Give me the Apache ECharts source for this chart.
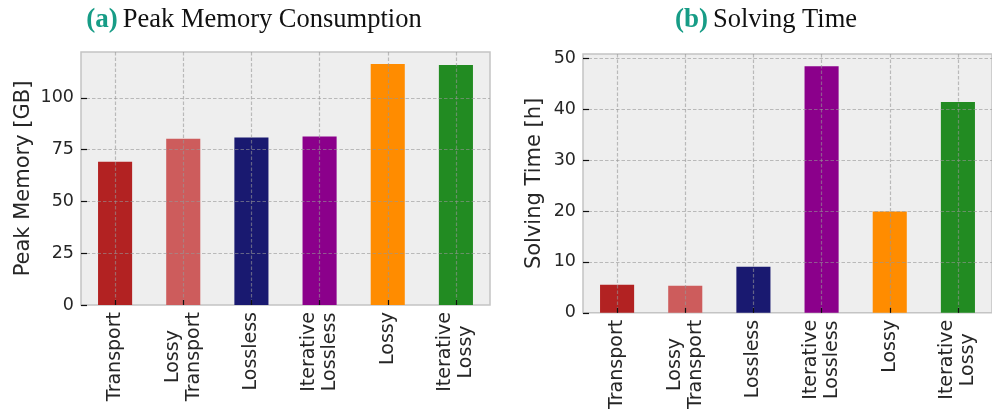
<!DOCTYPE html>
<html>
<head>
<meta charset="utf-8">
<script src="https://cdn.jsdelivr.net/npm/echarts@6/dist/echarts.min.js"></script>
<style>
    html, body { margin: 0; padding: 0; background: #ffffff; }
    #main { width: 992px; height: 412px; }
</style>
</head>
<body>
<div id="main"></div>
<script>
    'use strict';

    // categories (\n = line break in the rotated label)
    var categories = ['Transport', 'Lossy\nTransport', 'Lossless', 'Iterative\nLossless', 'Lossy', 'Iterative\nLossy'];
    // peak memory [GB]
    var peakMemory = [69.2, 80.3, 80.8, 81.3, 116.3, 115.9];
    // solving time [h]
    var solvingTime = [5.5, 5.3, 9.05, 48.4, 19.9, 41.4];
    // tick labels
    var memTicks = [0, 25, 50, 75, 100];
    var timeTicks = [0, 10, 20, 30, 40, 50];

    var barColors = ['#b22222', '#cd5c5c', '#191970', '#8b008b', '#ff8c00', '#228b22'];
    var teal = '#179c86';
    var sans = 'DejaVu Sans';
    var serif = 'Liberation Serif';
    var gridLine = {color: 'rgba(150,150,150,0.6)', width: 1.2, type: [3.5, 2]};

    var chart = echarts.init(document.getElementById('main'), null, {renderer: 'canvas'});

    function makeTitle(tag, text, centerX) {
        return {
            text: '{b|' + tag + '} {n|' + text + '}',
            left: centerX,
            top: 2,
            textAlign: 'center',
            textStyle: {
                rich: {
                    b: {fontFamily: serif, fontWeight: 'bold', fontSize: 27, color: teal},
                    n: {fontFamily: serif, fontWeight: 'normal', fontSize: 26.5, color: '#111'}
                }
            }
        };
    }

    function makeX(gridIndex) {
        return {
            type: 'category',
            gridIndex: gridIndex,
            data: categories,
            z: 5,
            axisLine: {show: false},
            axisTick: {show: true, inside: true, alignWithLabel: true, length: 5, lineStyle: {color: '#111', width: 1.2}},
            // grid lines through the bar centres
            splitLine: {show: true, alignWithLabel: true, lineStyle: gridLine},
            axisLabel: {
                interval: 0,
                rotate: 90,
                margin: 7,
                formatter: function (v) {
                    return v.split('\n').map(function (s) { return '{c|' + s + '}'; }).join('\n');
                },
                rich: {
                    c: {align: 'center', fontFamily: sans, fontSize: 19, lineHeight: 21, color: '#262626'}
                }
            }
        };
    }

    function makeY(gridIndex, name, ticks, step, gap) {
        return {
            type: 'value',
            gridIndex: gridIndex,
            name: name,
            nameLocation: 'middle',
            nameGap: gap,
            nameTextStyle: {fontFamily: sans, fontSize: 21, color: '#262626'},
            min: 0,
            max: function (v) { return v.max * 1.05; },
            interval: step,
            z: 5,
            axisLine: {show: false},
            axisTick: {show: true, inside: true, length: 6, customValues: ticks, lineStyle: {color: '#111', width: 1.2}},
            splitLine: {show: true, showMinLine: false, lineStyle: gridLine},
            axisLabel: {customValues: ticks, margin: 7, fontFamily: sans, fontSize: 17.5, color: '#262626'}
        };
    }

    function makeBars(idx, values) {
        return {
            type: 'bar',
            xAxisIndex: idx,
            yAxisIndex: idx,
            data: values,
            colorBy: 'data',
            barWidth: '50%',
            z: 2
        };
    }

    var option = {
        animation: false,
        color: barColors,
        title: [
            makeTitle('(a)', 'Peak Memory Consumption', 249),
            makeTitle('(b)', 'Solving Time', 761)
        ],
        grid: [
            {left: 81, top: 52, width: 409, height: 253, show: true, backgroundColor: '#eeeeee', borderColor: '#c4c4c4', borderWidth: 1.5},
            {left: 583, top: 54, width: 421, height: 259, show: true, backgroundColor: '#eeeeee', borderColor: '#c4c4c4', borderWidth: 1.5}
        ],
        xAxis: [makeX(0), makeX(1)],
        yAxis: [
            makeY(0, 'Peak Memory [GB]', memTicks, 25, 47),
            makeY(1, 'Solving Time [h]', timeTicks, 10, 38)
        ],
        series: [makeBars(0, peakMemory), makeBars(1, solvingTime)]
    };

    chart.setOption(option);
</script>
</body>
</html>
